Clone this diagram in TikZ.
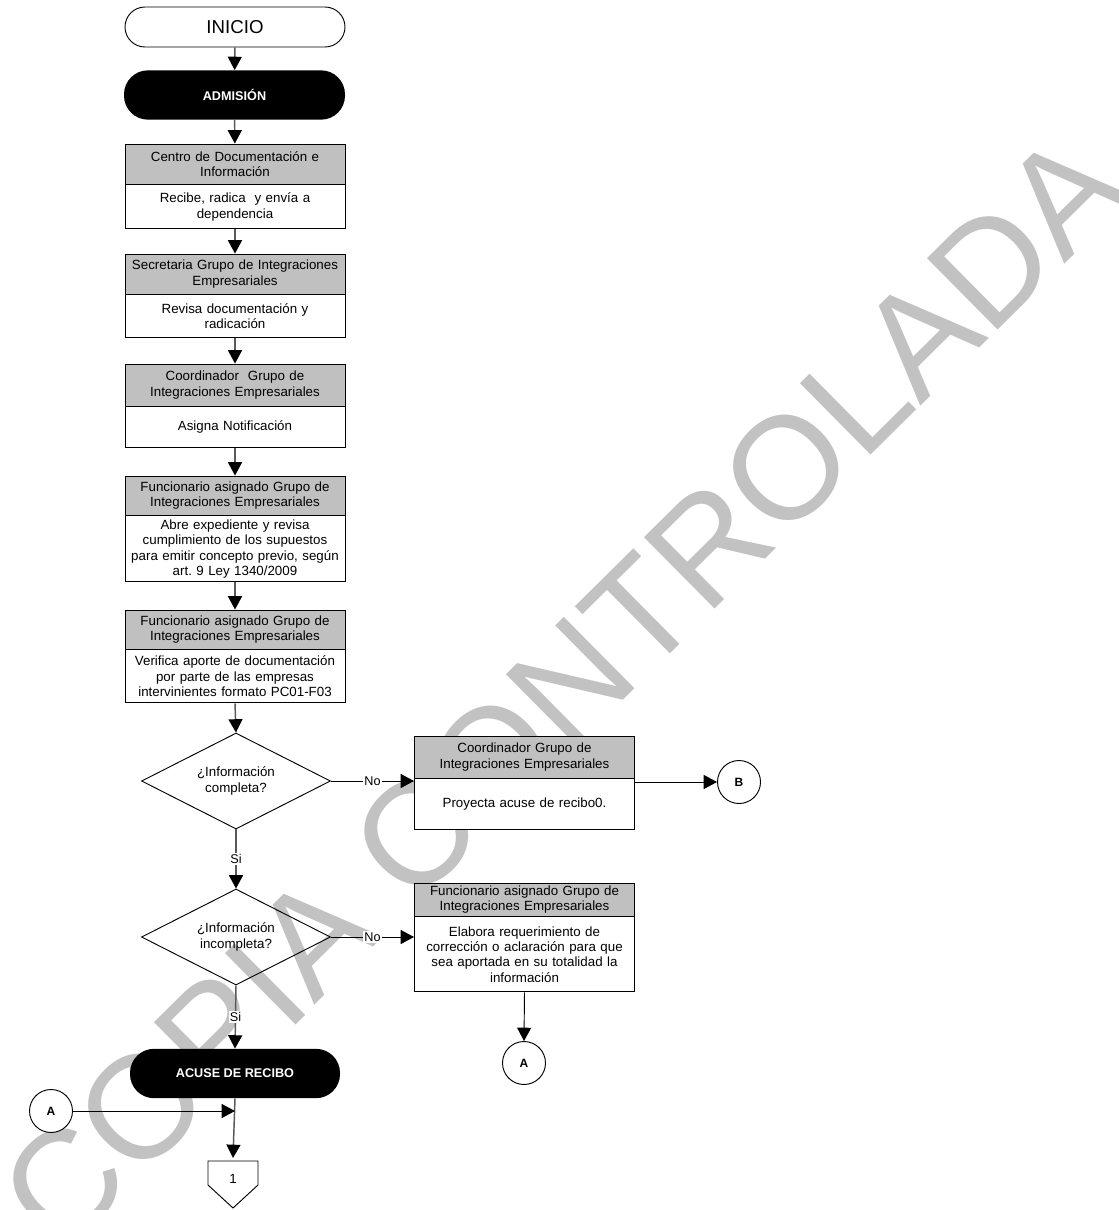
\documentclass[tikz,border=0pt]{standalone}
\usepackage{fontspec}
\setmainfont{Liberation Sans}
\usetikzlibrary{arrows.meta, positioning, shapes.geometric}
\definecolor{gris}{RGB}{192,192,192}

\begin{document}
\begin{tikzpicture}[x=0.75pt, y=-0.75pt,
        every node/.style={font=\fontsize{10}{11.5}\selectfont, align=center, inner sep=1pt},
        marca/.style={text=black!24, inner sep=0pt, font=\fontsize{109.5}{110}\selectfont},
        inicio/.style={draw, line width=0.7pt, fill=white, rounded corners=15pt,
                       minimum width=165pt, minimum height=30pt, font=\fontsize{14}{16}\selectfont},
        etapa/.style={fill=black, text=white, rounded corners=18pt, minimum height=37pt,
                      font=\bfseries\fontsize{9.5}{11}\selectfont},
        cabeza/.style={draw, line width=0.7pt, fill=gris, text width=158pt, inner xsep=3.5pt, inner ysep=0.5pt},
        cuerpo/.style={cabeza, fill=white},
        decision/.style={diamond, draw, line width=0.7pt, aspect=2, inner sep=0pt,
                         minimum width=141.75pt, minimum height=72pt},
        conector/.style={circle, draw, line width=0.7pt, fill=white, minimum size=32.25pt,
                         inner sep=0pt, font=\bfseries\fontsize{9}{10}\selectfont},
        etiqueta/.style={fill=white, inner sep=1pt, font=\fontsize{9.5}{11}\selectfont},
        flecha/.style={-{Triangle[length=10pt, width=10.5pt, color=black]}, draw=black!65, line width=1.1pt},
        flechan/.style={flecha, draw=black, line width=0.7pt}]

\useasboundingbox (0,0) rectangle (1119,1210);

% marca de agua
\node[marca, rotate=44.7, anchor=base west] (agua) at (61,1257) {COPIA CONTROLADA};

% columna principal
\node[inicio] (inicio) at (235,27) {INICIO};
\node[etapa, minimum width=165.75pt] (admision) at (234.5,95) {ADMISIÓN};

\node[cabeza, minimum height=30pt] (cdiH) at (235,164) {Centro de Documentación e\\Información};
\node[cuerpo, minimum height=33pt, below=0pt of cdiH] (cdiB) {Recibe, radica~ y envía a\\dependencia};

\node[cabeza, minimum height=30pt] (secH) at (235,274) {Secretaria Grupo de Integraciones\\Empresariales};
\node[cuerpo, minimum height=32.25pt, below=0pt of secH] (secB) {Revisa documentación y\\radicación};

\node[cabeza, minimum height=31.5pt] (coH) at (235,385) {Coordinador~ Grupo de\\Integraciones Empresariales};
\node[cuerpo, minimum height=30.75pt, below=0pt of coH] (coB) {Asigna Notificación};

\node[cabeza, minimum height=29.25pt] (fu1H) at (235,495.5) {Funcionario asignado Grupo de\\Integraciones Empresariales};
\node[cuerpo, minimum height=49.5pt, below=0pt of fu1H] (fu1B) {Abre expediente y revisa\\cumplimiento de los supuestos\\para emitir concepto previo, según\\art.\ 9 Ley 1340/2009};

\node[cabeza, minimum height=29.25pt] (fu2H) at (235,629.5) {Funcionario asignado Grupo de\\Integraciones Empresariales};
\node[cuerpo, minimum height=39.75pt, below=0pt of fu2H] (fu2B) {Verifica aporte de documentación\\por parte de las empresas\\intervinientes formato PC01-F03};

\node[decision] (dec1) at (236,781) {¿Información\\completa?};
\node[decision] (dec2) at (236,937) {¿Información\\incompleta?};

\node[etapa, minimum width=157.5pt] (acuse) at (235,1073.5) {ACUSE DE RECIBO};

% columna derecha
\node[cabeza, minimum height=31.5pt] (co2H) at (524.5,757) {Coordinador Grupo de\\Integraciones Empresariales};
\node[cuerpo, minimum height=38.25pt, below=0pt of co2H] (co2B) {Proyecta acuse de recibo0.};

\node[cabeza, minimum height=24.75pt] (fu3H) at (524.5,899.5) {Funcionario asignado Grupo de\\Integraciones Empresariales};
\node[cuerpo, minimum height=56.25pt, below=0pt of fu3H] (fu3B) {Elabora requerimiento de\\corrección o aclaración para que\\sea aportada en su totalidad la\\información};

% conectores
\node[conector] (B) at (739,782) {B};
\node[conector] (Ader) at (524,1063) {A};
\node[conector] (Aizq) at (51,1111) {A};

% conector fuera de pagina
\draw[line width=0.7pt, fill=white] (208,1161) -- (258,1161) -- (258,1185) -- (233,1208) -- (208,1185) -- cycle;
\node (uno) at (233,1179) {1};
\coordinate (ofp) at (233,1158);

% flechas
\draw[flecha] (inicio) -- (admision);
\draw[flecha] (admision) -- (cdiH);
\draw[flecha] (cdiB) -- (secH);
\draw[flecha] (secB) -- (coH);
\draw[flecha] (coB) -- (fu1H);
\draw[flecha] (fu1B) -- (fu2H);
\draw[flecha] (fu2B.south) -- (dec1.north);
\draw[flecha] (dec1.south) -- node[etiqueta] {Si} (dec2.north);
\draw[flecha] (dec2.south) -- node[etiqueta] {Si} (acuse.north);
\draw[flechan] (dec1.east) -- node[etiqueta] {No} (dec1.east -| co2B.west);
\draw[flechan] (dec2.east) -- node[etiqueta] {No} (dec2.east -| fu3B.west);
\draw[flechan] (B -| co2B.east) -- (B);
\draw[flechan] (fu3B.south) -- (Ader.north);
\draw[flecha] (acuse.south) -- (ofp);
\draw[flechan] (Aizq.east) -- (Aizq -| acuse.south);
\end{tikzpicture}
\end{document}
